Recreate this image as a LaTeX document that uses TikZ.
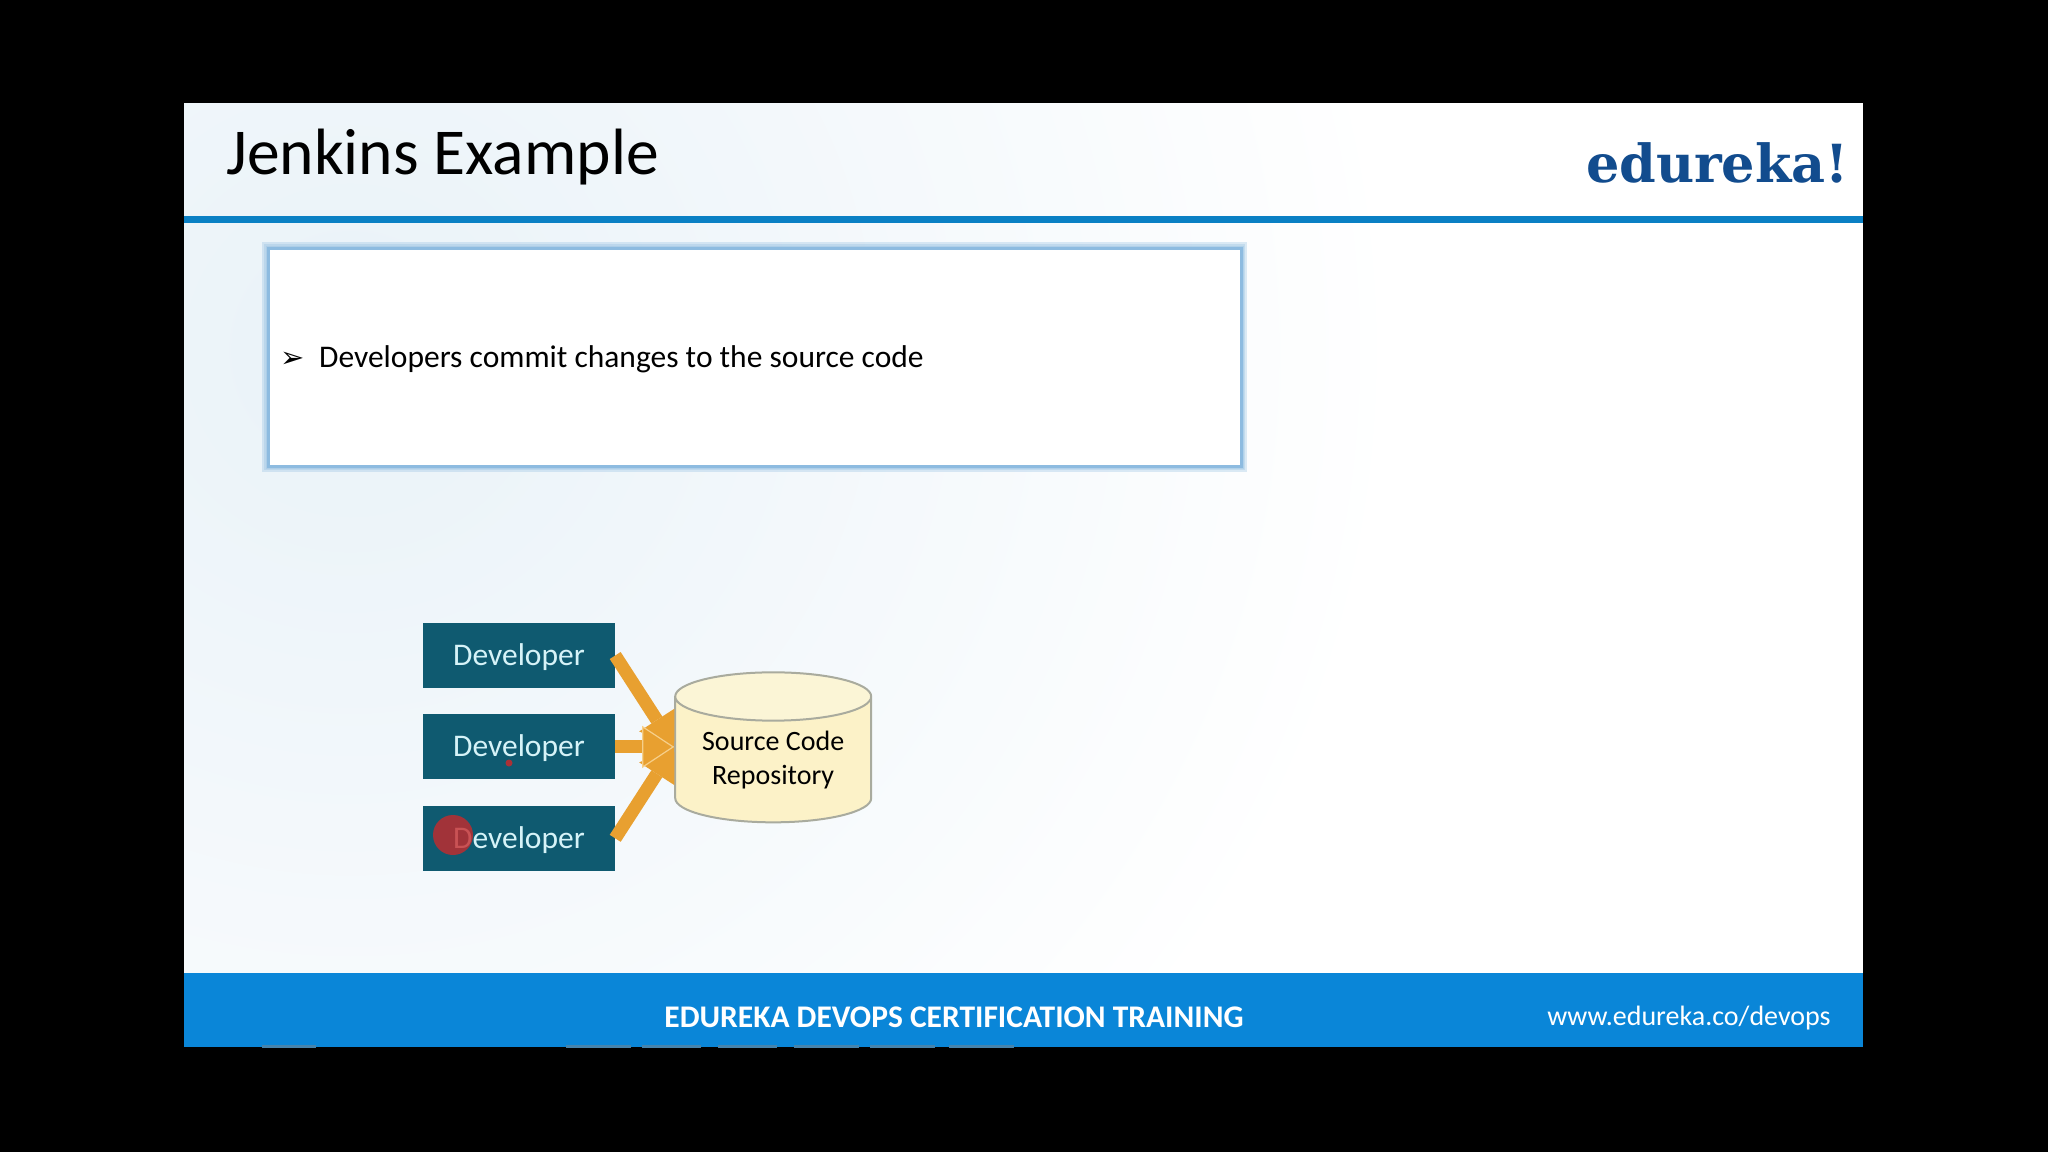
\documentclass[tikz,border=0pt]{standalone}
\usepackage{fontspec}
\setmainfont{Carlito}
\newfontfamily\logofont{DejaVu Serif}
\newfontfamily\symfont{DejaVu Sans}
\usetikzlibrary{positioning,shapes.geometric,arrows.meta}
\definecolor{barblue}{HTML}{0A86D8}
\definecolor{lineblue}{HTML}{0A80C4}
\definecolor{logoblue}{HTML}{124C8E}
\definecolor{devteal}{HTML}{0F5A70}
\definecolor{devtext}{HTML}{D6F3F8}
\definecolor{repofill}{HTML}{FCF2C8}
\definecolor{repotop}{HTML}{FBF5D6}
\definecolor{repoline}{HTML}{A9AB9E}
\definecolor{arroworange}{HTML}{E8A030}
\definecolor{arrowpale}{HTML}{F6CF8A}
\definecolor{panelglow}{HTML}{8DBBE0}
\definecolor{paleblue}{HTML}{E9F2F8}
\definecolor{pointerred}{HTML}{C62A2C}
\tikzset{
  dev/.style = {rectangle, fill=devteal, text=devtext, minimum width=192pt,
    minimum height=65pt, inner sep=0pt, text height=19.5pt, text depth=0pt,
    font=\fontsize{31.5}{35}\selectfont},
  repo/.style = {cylinder, shape border rotate=90, aspect=0.34, draw=repoline,
    line width=2pt, cylinder uses custom fill, cylinder body fill=repofill,
    cylinder end fill=repotop, minimum width=196pt, minimum height=150pt,
    inner sep=0pt, align=center, font=\fontsize{28}{33.5}\selectfont},
  flow/.style = {draw=arroworange, line width=13pt,
    -{Triangle[length=32pt,width=42pt,color=arroworange,line width=0pt]}},
  flowmid/.style = {draw=arroworange, line width=13pt,
    -{Triangle[length=32pt,width=42pt,color=arrowpale,fill=arroworange,line width=1.2pt]}},
  plain/.style = {inner sep=0pt, anchor=base west}
}
\begin{document}
\begin{tikzpicture}[x=1pt,y=-1pt]
  \useasboundingbox (0,0) rectangle (2048,1152);
  \fill[black] (0,0) rectangle (2048,1152);
  % slide
  \fill[white] (184,103) rectangle (1863,1047);
  \begin{scope}
    \clip (184,103) rectangle (1863,973);
    \shade[inner color=paleblue, outer color=white] (350,350) circle (1050);
  \end{scope}
  \fill[lineblue] (184,216) rectangle (1863,223);
  \fill[barblue] (184,973) rectangle (1863,1047);
  \foreach \xa/\xb in {262/316,566/631,642/701,718/777,794/859,870/935,949/1014}
    \fill[gray!50!barblue] (\xa,1045) rectangle (\xb,1048);
  % title and logo
  \node[plain, font=\fontsize{65.5}{70}\selectfont] (title) at (226,174) {Jenkins Example};
  \node[plain, anchor=base east, text=logoblue, font=\logofont\bfseries\fontsize{52.5}{58}\selectfont] (logo) at (1849,182) {edureka!};
  % text panel
  \foreach \w in {12,8,5}
    \draw[panelglow, opacity=.3, line width=\w pt] (268,248) rectangle (1241,466);
  \node[rectangle, draw=panelglow, fill=white, line width=3pt, minimum width=973pt,
    minimum height=218pt, inner sep=0pt] (panel) at (754.5,357) {};
  \node[plain, font=\symfont\bfseries\fontsize{29}{33}\selectfont] (bullet) at (280,367) {➢};
  \node[plain, font=\fontsize{31.5}{35}\selectfont] (note) at (319,367) {Developers commit changes to the source code};
  % developers
  \node[dev] (dev1) at (519,655.5) {Developer};
  \node[dev, below=26pt of dev1] (dev2) {Developer};
  \node[dev, below=26pt of dev2] (dev3) {Developer};
  \node[repo, right=59pt of dev2, yshift=-13pt] (store) {Source Code\\Repository};
  \draw[flow] (dev1.east) -- ([yshift=13pt]store.west);
  \draw[flow] (dev3.east) -- ([yshift=13pt]store.west);
  \draw[flowmid] (dev2.east) -- ([yshift=13pt]store.west);
  % pointer
  \node[circle, fill=pointerred, opacity=.8, minimum size=40pt, inner sep=0pt] (pointer) at (453,835) {};
  \node[circle, fill=pointerred, opacity=.85, minimum size=7pt, inner sep=0pt] (trail) at (509,763) {};
  % footer
  \node[text=white, font=\bfseries\fontsize{31.5}{35}\selectfont] (foot) at (954,1017) {EDUREKA DEVOPS CERTIFICATION TRAINING};
  \node[text=white, font=\fontsize{28}{33}\selectfont] (url) at (1689,1018) {www.edureka.co/devops};
\end{tikzpicture}
\end{document}
